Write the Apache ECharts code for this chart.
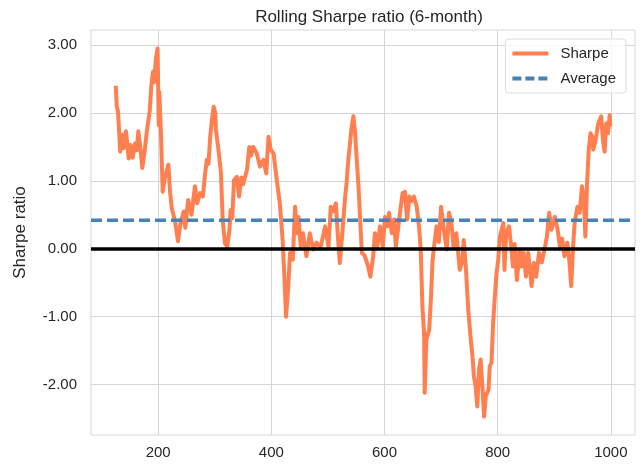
<!DOCTYPE html>
<html>
<head>
<meta charset="utf-8">
<script src="https://cdn.jsdelivr.net/npm/echarts@6/dist/echarts.min.js"></script>
<style>
  html, body { margin: 0; padding: 0; background: #ffffff; }
  #chart { width: 642px; height: 466px; }
</style>
</head>
<body>
<div id="chart"></div>
<script>
// Trading-day index of each observation
const days = [125, 127, 129, 133, 136, 139, 143, 148, 151, 155, 159, 162, 165, 168, 172, 176, 180, 185, 188, 191,
  193, 196, 199, 201, 202, 205, 208, 212, 218, 221, 224, 230, 235, 239, 245, 248, 253, 256, 259, 265,
  269, 274, 279, 283, 286, 289, 292, 295, 298, 301, 302, 306, 311, 314, 318, 322, 326, 328, 331, 334,
  339, 343, 347, 350, 357, 361, 364, 368, 374, 380, 386, 391, 395, 399, 404, 411, 415, 420, 423, 426,
  430, 433, 438, 442, 445, 448, 452, 456, 462, 468, 474, 480, 487, 495, 501, 505, 509, 514, 518, 521,
  526, 530, 533, 536, 539, 542, 545, 548, 551, 554, 557, 560, 565, 571, 575, 580, 583, 587, 592, 597,
  601, 605, 608, 613, 617, 620, 624, 628, 632, 636, 640, 644, 648, 652, 657, 661, 664, 667, 670, 671,
  674, 679, 682, 685, 689, 692, 696, 700, 704, 710, 714, 718, 722, 727, 733, 738, 740, 744, 748, 752,
  756, 758, 761, 764, 767, 770, 773, 776, 779, 784, 786, 789, 792, 795, 798, 801, 804, 807, 810, 812,
  815, 820, 824, 827, 830, 834, 839, 842, 846, 850, 854, 860, 864, 868, 873, 878, 883, 887, 891, 895,
  901, 906, 910, 914, 918, 923, 927, 930, 933, 936, 941, 945, 949, 952, 955, 958, 961, 964, 967, 969,
  973, 978, 983, 986, 989, 992, 995, 998, 999];

// Rolling 6-month Sharpe ratio
const sharpe = [2.40, 2.09, 2.02, 1.43, 1.68, 1.48, 1.73, 1.33, 1.53, 1.34, 1.55, 1.45, 1.73, 1.53, 1.19, 1.43, 1.73, 2.02, 2.41, 2.61,
  2.45, 2.80, 2.95, 1.82, 2.31, 1.68, 0.84, 1.05, 1.24, 0.84, 0.60, 0.40, 0.11, 0.35, 0.55, 0.31, 0.72, 0.62, 0.50, 0.92,
  0.67, 0.82, 0.77, 1.11, 1.31, 1.25, 1.65, 1.90, 2.09, 2.00, 1.75, 1.50, 1.11, 0.43, 0.08, 0.03, 0.28, 0.57, 0.45, 1.01,
  1.06, 0.77, 1.05, 0.95, 1.16, 1.50, 1.37, 1.50, 1.41, 1.21, 1.31, 1.11, 1.65, 1.46, 1.40, 0.92, 0.67, 0.13, -0.40, -1.00,
  -0.55, -0.06, -0.16, 0.62, 0.23, 0.47, 0.03, 0.23, -0.11, 0.23, -0.01, 0.09, 0.02, 0.33, 0.03, 0.62, 0.55, 0.67, 0.13, -0.21,
  0.28, 0.72, 0.97, 1.31, 1.55, 1.80, 1.95, 1.71, 1.31, 0.92, 0.43, -0.06, -0.10, -0.26, -0.41, -0.11, 0.23, 0.03, 0.33, 0.03,
  0.47, 0.33, 0.53, 0.23, 0.43, 0.03, 0.30, 0.57, 0.82, 0.84, 0.43, 0.77, 0.70, 0.77, 0.62, 0.33, -0.01, -0.85, -1.24, -2.12,
  -1.34, -1.19, -0.75, -0.16, 0.13, 0.33, 0.10, 0.62, 0.33, -0.01, 0.53, 0.40, 0.03, 0.23, -0.31, -0.16, 0.13, -0.31, -0.90, -1.29,
  -1.63, -1.88, -2.02, -2.32, -1.78, -1.63, -2.02, -2.47, -2.17, -2.07, -1.73, -1.68, -1.09, -0.70, -0.36, -0.16, 0.18, 0.28, 0.38, -0.31,
  0.23, 0.33, 0.03, -0.26, 0.07, -0.46, -0.01, -0.26, -0.06, -0.41, -0.06, -0.55, -0.21, -0.41, -0.06, -0.20, 0.00, 0.18, 0.53, 0.28,
  0.47, 0.28, 0.03, 0.15, -0.11, 0.09, -0.21, -0.55, -0.01, 0.38, 0.62, 0.53, 0.92, 0.77, 0.18, 0.97, 1.46, 1.70, 1.65, 1.46,
  1.60, 1.85, 1.95, 1.60, 1.43, 1.85, 1.70, 1.97, 1.80];

// Mean of the rolling Sharpe ratio
const averageSharpe = 0.42;

// Axis tick positions
const xTicks = [200, 400, 600, 800, 1000];
const yTicks = [-2, -1, 0, 1, 2, 3];

// 5% padding on both axes around the data extent
function padded(values) {
  const lo = Math.min(...values), hi = Math.max(...values);
  const pad = (hi - lo) * 0.05;
  return [lo - pad, hi + pad];
}
const [xMin, xMax] = padded(days);
const [yMin, yMax] = padded(sharpe);

const textColor = '#262626';
const gridColor = '#d6d6d6';
const sharpeColor = '#ff7f50';
const averageColor = '#4682b4';
const fontFamily = '"Liberation Sans", Arial, sans-serif';

const chart = echarts.init(document.getElementById('chart'), null, { renderer: 'canvas' });

chart.setOption({
  animation: false,
  backgroundColor: '#ffffff',
  title: {
    text: 'Rolling Sharpe ratio (6-month)',
    left: 364,
    textAlign: 'center',
    top: 4,
    textStyle: { color: textColor, fontSize: 17, fontWeight: 'normal', fontFamily: fontFamily }
  },
  grid: {
    left: 91, right: 7, top: 30, bottom: 31,
    show: true, borderColor: gridColor, borderWidth: 1, backgroundColor: '#ffffff'
  },
  legend: {
    right: 16,
    top: 39,
    orient: 'vertical',
    padding: [7, 10, 7, 5],
    itemWidth: 36,
    itemHeight: 14,
    itemGap: 10,
    backgroundColor: 'rgba(255,255,255,0.8)',
    borderColor: '#dddddd',
    borderWidth: 1,
    borderRadius: 3,
    textStyle: { color: textColor, fontSize: 15, fontFamily: fontFamily, padding: [0, 0, 0, 7] },
    data: [
      {
        name: 'Sharpe',
        itemStyle: { opacity: 0, borderWidth: 0 },
        lineStyle: { width: 4, color: sharpeColor }
      },
      {
        name: 'Average',
        itemStyle: { opacity: 0, borderWidth: 0 },
        lineStyle: { width: 4, color: averageColor, type: [9, 4] }
      }
    ]
  },
  xAxis: {
    type: 'value',
    min: xMin,
    max: xMax,
    axisLine: { show: false },
    axisTick: { show: false, customValues: xTicks },
    axisLabel: {
      customValues: xTicks,
      formatter: v => String(Math.round(v)),
      color: textColor, fontSize: 15, fontFamily: fontFamily, margin: 10
    },
    splitLine: { show: true, lineStyle: { color: gridColor, width: 1 } }
  },
  yAxis: {
    type: 'value',
    min: yMin,
    max: yMax,
    name: 'Sharpe ratio',
    nameLocation: 'middle',
    nameGap: 62,
    nameTextStyle: { color: textColor, fontSize: 17, fontFamily: fontFamily },
    axisLine: { show: false },
    axisTick: { show: false, customValues: yTicks },
    axisLabel: {
      customValues: yTicks,
      formatter: v => v.toFixed(2),
      color: textColor, fontSize: 15, fontFamily: fontFamily, margin: 14
    },
    splitLine: { show: true, lineStyle: { color: gridColor, width: 1 } }
  },
  series: [
    {
      name: 'Sharpe',
      type: 'line',
      data: days.map((d, i) => [d, sharpe[i]]),
      symbol: 'none',
      lineStyle: { color: sharpeColor, width: 4, join: 'round' },
      itemStyle: { color: sharpeColor },
      z: 2
    },
    {
      name: 'Average',
      type: 'line',
      data: [[xMin, averageSharpe], [xMax, averageSharpe]],
      symbol: 'none',
      lineStyle: { color: averageColor, width: 3.5, type: [11, 5] },
      itemStyle: { color: averageColor },
      z: 3,
      markLine: {
        silent: true,
        symbol: 'none',
        label: { show: false },
        lineStyle: { color: '#000000', width: 3.5, type: 'solid' },
        data: [{ yAxis: 0 }],
        z: 4
      }
    }
  ]
});
</script>
</body>
</html>
